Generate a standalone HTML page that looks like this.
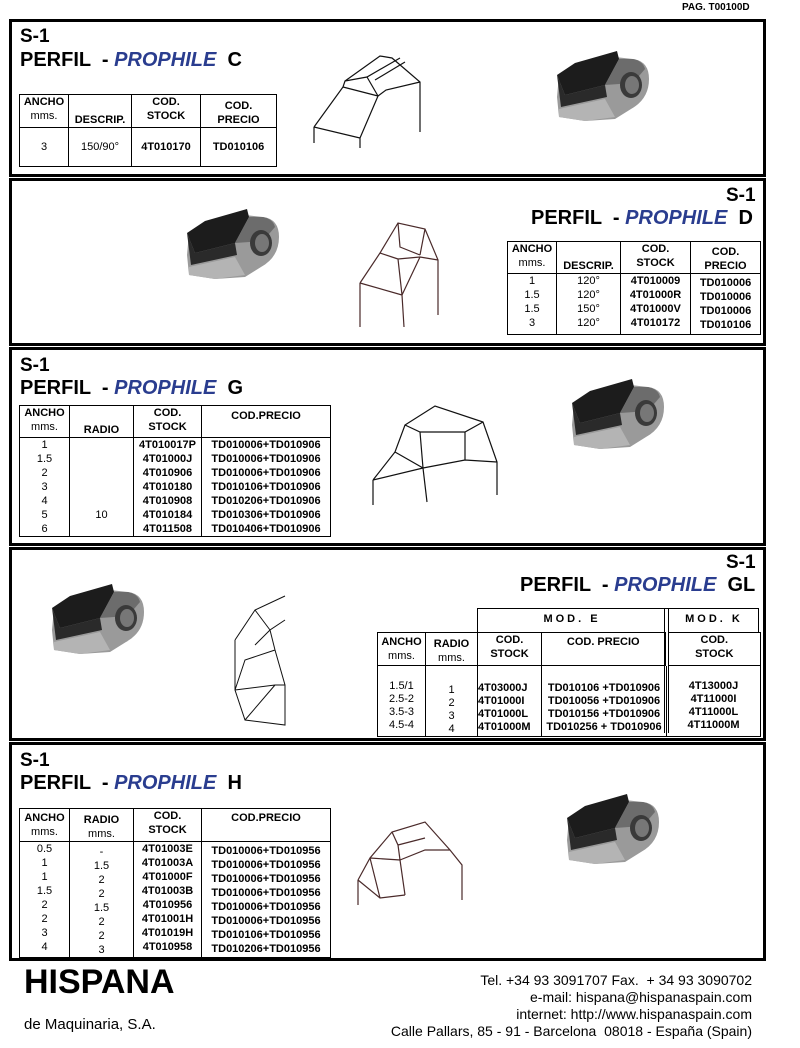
<!DOCTYPE html>
<html><head><meta charset="utf-8">
<style>
body{margin:0;width:800px;height:1048px;background:#fff;position:relative;font-family:"Liberation Sans",Arial,sans-serif;overflow:hidden}
.a{position:absolute}
.box{position:absolute;left:9px;width:757px;border:3px solid #000;box-sizing:border-box}
.s1{position:absolute;font-weight:bold;font-size:19px;color:#000}
.t{position:absolute;font-weight:bold;font-size:20px;white-space:nowrap}
.t i{color:#2a3d8f}
table{position:absolute;border-collapse:collapse;table-layout:fixed;font-size:11px;text-align:center}
td{border:1.5px solid #000;padding:0;vertical-align:top;line-height:14px}
.h{font-weight:bold;font-size:11px;line-height:13px}
.b{font-weight:bold}
</style></head><body>
<svg width="0" height="0" style="position:absolute"><defs>
<g id="tool">
<path d="M12,60 L14,38 L30,28 L70,20 L88,22 Q104,24 104,42 Q104,62 86,72 L70,82 L40,84 L14,80 Z" fill="#9a9a9a"/>
<path d="M12,38 L30,26 L72,14 L74,22 L60,48 L20,58 Z" fill="#1c1c1c"/>
<path d="M60,48 L74,22 L88,22 Q98,24 100,32 L88,46 Z" fill="#6c6c6c"/>
<path d="M12,38 L20,58 L60,48 L62,60 L16,70 Z" fill="#2a2a2a"/>
<ellipse cx="86" cy="48" rx="11" ry="13" fill="#3a3a3a"/>
<ellipse cx="87" cy="48" rx="7" ry="9" fill="#777"/>
<path d="M14,72 L60,62 L70,80 L40,84 L14,80Z" fill="#b4b4b4"/>
</g>
</defs></svg>

<div class="a b" style="left:682px;top:2px;font-size:10px">PAG. T00100D</div>

<div class="box" style="top:19px;height:158px"></div>
<div class="box" style="top:178px;height:168px"></div>
<div class="box" style="top:347px;height:199px"></div>
<div class="box" style="top:547px;height:194px"></div>
<div class="box" style="top:742px;height:219px"></div>

<!-- C -->
<div class="s1" style="left:20px;top:26px">S-1</div>
<div class="t" style="left:20px;top:49px">PERFIL &nbsp;- <i>PROPHILE</i>&nbsp; C</div>
<table style="left:19px;top:94px;width:257px"><colgroup><col width="49"><col width="63"><col width="69"><col width="76"></colgroup>
<tr style="height:30px" class="h"><td>ANCHO<br><span style="font-weight:normal">mms.</span></td><td style="vertical-align:bottom">DESCRIP.</td><td>COD.<br>STOCK</td><td style="padding-top:4px">COD.<br>PRECIO</td></tr>
<tr style="height:39px"><td style="vertical-align:middle">3</td><td style="vertical-align:middle">150/90°</td><td class="b" style="vertical-align:middle">4T010170</td><td class="b" style="vertical-align:middle">TD010106</td></tr></table>
<svg class="a" style="left:300px;top:40px" width="170" height="110" fill="none" stroke="#111" stroke-width="1.2"><path d="M14,87 L14,103 M14,87 L60,98 L60,108 M14,87 L43,47 L45,41 L80,16 L92,18 L120,42 L120,92 M120,42 L86,50 L78,56 L60,98 M43,47 L78,56 M45,41 L67,37 L100,18 M67,37 L78,56 M75,40 L105,22"/></svg>
<svg class="a" style="left:545px;top:37px" width="115" height="95"><use href="#tool"/></svg>

<!-- D -->
<div class="s1" style="left:726px;top:185px">S-1</div>
<div class="t" style="left:531px;top:207px">PERFIL &nbsp;- <i>PROPHILE</i>&nbsp; D</div>
<table style="left:507px;top:241px;width:253px"><colgroup><col width="49"><col width="64"><col width="70"><col width="70"></colgroup>
<tr style="height:31px" class="h"><td>ANCHO<br><span style="font-weight:normal">mms.</span></td><td style="vertical-align:bottom">DESCRIP.</td><td>COD.<br>STOCK</td><td style="padding-top:3px">COD.<br>PRECIO</td></tr>
<tr style="height:61px"><td style="line-height:14px">1<br>1.5<br>1.5<br>3</td><td>120°<br>120°<br>150°<br>120°</td><td class="b">4T010009<br>4T01000R<br>4T01000V<br>4T010172</td><td class="b" style="padding-top:2px">TD010006<br>TD010006<br>TD010006<br>TD010106</td></tr></table>
<svg class="a" style="left:350px;top:215px" width="120" height="115" fill="none" stroke="#4a2a2a" stroke-width="1.2"><path d="M10,68 L10,112 M10,68 L52,80 L54,112 M10,68 L30,38 L48,8 L75,14 L88,45 L88,100 M30,38 L48,44 L52,80 M48,44 L70,42 L88,45 M48,8 L50,32 L70,40 M75,14 L70,40 M52,80 L70,42"/></svg>
<svg class="a" style="left:175px;top:195px" width="115" height="95"><use href="#tool"/></svg>

<!-- G -->
<div class="s1" style="left:20px;top:355px">S-1</div>
<div class="t" style="left:20px;top:377px">PERFIL &nbsp;- <i>PROPHILE</i>&nbsp; G</div>
<table style="left:19px;top:405px;width:311px"><colgroup><col width="50"><col width="64"><col width="68"><col width="129"></colgroup>
<tr style="height:32px" class="h"><td>ANCHO<br><span style="font-weight:normal">mms.</span></td><td style="vertical-align:bottom">RADIO</td><td>COD.<br>STOCK</td><td style="padding-top:3px">COD.PRECIO</td></tr>
<tr style="height:97px"><td>1<br>1.5<br>2<br>3<br>4<br>5<br>6</td><td><br><br><br><br><br>10</td><td class="b">4T010017P<br>4T01000J<br>4T010906<br>4T010180<br>4T010908<br>4T010184<br>4T011508</td><td class="b">TD010006+TD010906<br>TD010006+TD010906<br>TD010006+TD010906<br>TD010106+TD010906<br>TD010206+TD010906<br>TD010306+TD010906<br>TD010406+TD010906</td></tr></table>
<svg class="a" style="left:365px;top:400px" width="140" height="110" fill="none" stroke="#111" stroke-width="1.2"><path d="M8,80 L8,105 M8,80 L30,52 L40,25 L70,6 L118,22 L132,62 L132,95 M30,52 L58,68 L62,102 M58,68 L100,60 L132,62 M40,25 L55,32 L100,32 L118,22 M55,32 L58,68 M100,32 L100,60 M8,80 L58,68"/></svg>
<svg class="a" style="left:560px;top:365px" width="115" height="95"><use href="#tool"/></svg>

<!-- GL -->
<div class="s1" style="left:726px;top:552px">S-1</div>
<div class="t" style="left:520px;top:574px">PERFIL &nbsp;- <i>PROPHILE</i>&nbsp; GL</div>
<div class="a" style="left:477px;top:608px;width:282px;height:24px;border:1.5px solid #000;border-bottom:none;box-sizing:border-box"></div>
<div class="a b" style="left:477px;top:613px;width:190px;text-align:center;font-size:11px;letter-spacing:3px">MOD. E</div>
<div class="a b" style="left:669px;top:613px;width:90px;text-align:center;font-size:11px;letter-spacing:3px">MOD. K</div>
<div class="a" style="left:664px;top:608px;width:3px;height:125px;border-left:1.5px solid #000;border-right:1.5px solid #000"></div>
<table style="left:377px;top:632px;width:383px"><colgroup><col width="48"><col width="52"><col width="64"><col width="125"><col width="94"></colgroup>
<tr style="height:30px" class="h"><td style="padding-top:2px">ANCHO<br><span style="font-weight:normal">mms.</span></td><td style="padding-top:4px">RADIO<br><span style="font-weight:normal">mms.</span></td><td>COD.<br>STOCK</td><td style="padding-top:2px">COD. PRECIO</td><td style="border-left:4px double #000">COD.<br>STOCK</td></tr>
<tr style="height:71px"><td style="padding-top:14px;line-height:13px">1.5/1<br>2.5-2<br>3.5-3<br>4.5-4</td><td style="padding-top:18px;line-height:13px">1<br>2<br>3<br>4</td><td class="b" style="padding-top:16px;line-height:13px;text-align:left">4T03000J<br>4T01000I<br>4T01000L<br>4T01000M</td><td class="b" style="padding-top:16px;line-height:13px">TD010106 +TD010906<br>TD010056 +TD010906<br>TD010156 +TD010906<br>TD010256 + TD010906</td><td class="b" style="padding-top:14px;line-height:13px">4T13000J<br>4T11000I<br>4T11000L<br>4T11000M</td></tr></table>
<svg class="a" style="left:225px;top:590px" width="95" height="140" fill="none" stroke="#111" stroke-width="1"><path d="M10,50 L10,100 L20,130 L60,135 L60,95 L50,60 L45,40 L60,30 M10,50 L30,20 L60,6 M30,20 L45,40 M10,100 L50,95 L60,95 M20,130 L50,95 M50,60 L20,70 L10,100 M45,40 L30,55"/></svg>
<svg class="a" style="left:40px;top:570px" width="115" height="95"><use href="#tool"/></svg>

<!-- H -->
<div class="s1" style="left:20px;top:750px">S-1</div>
<div class="t" style="left:20px;top:772px">PERFIL &nbsp;- <i>PROPHILE</i>&nbsp; H</div>
<table style="left:19px;top:808px;width:311px"><colgroup><col width="50"><col width="64"><col width="68"><col width="129"></colgroup>
<tr style="height:30px" class="h"><td style="padding-top:2px">ANCHO<br><span style="font-weight:normal">mms.</span></td><td style="padding-top:4px">RADIO<br><span style="font-weight:normal">mms.</span></td><td>COD.<br>STOCK</td><td style="padding-top:2px">COD.PRECIO</td></tr>
<tr style="height:112px"><td>0.5<br>1<br>1<br>1.5<br>2<br>2<br>3<br>4</td><td style="padding-top:3px">-<br>1.5<br>2<br>2<br>1.5<br>2<br>2<br>3</td><td class="b">4T01003E<br>4T01003A<br>4T01000F<br>4T01003B<br>4T010956<br>4T01001H<br>4T01019H<br>4T010958</td><td class="b" style="padding-top:2px">TD010006+TD010956<br>TD010006+TD010956<br>TD010006+TD010956<br>TD010006+TD010956<br>TD010006+TD010956<br>TD010006+TD010956<br>TD010106+TD010956<br>TD010206+TD010956</td></tr></table>
<svg class="a" style="left:350px;top:810px" width="120" height="105" fill="none" stroke="#4a2a2a" stroke-width="1.2"><path d="M8,70 L8,95 M8,70 L20,48 L42,22 L75,12 L100,40 L112,55 L112,90 M20,48 L50,50 L55,85 M50,50 L75,40 L100,40 M42,22 L48,35 L75,28 M48,35 L50,50 M8,70 L30,88 L55,85 M20,48 L30,88"/></svg>
<svg class="a" style="left:555px;top:780px" width="115" height="95"><use href="#tool"/></svg>

<!-- footer -->
<div class="a b" style="left:24px;top:963px;font-size:34px">HISPANA</div>
<div class="a" style="left:24px;top:1016px;font-size:15px">de Maquinaria, S.A.</div>
<div class="a" style="right:48px;top:972px;font-size:14px;text-align:right;line-height:17px;white-space:nowrap">Tel. +34 93 3091707 Fax. &nbsp;+ 34 93 3090702<br>e-mail: hispana@hispanaspain.com<br>internet: http://www.hispanaspain.com<br>Calle Pallars, 85 - 91 - Barcelona &nbsp;08018 - España (Spain)</div>
</body></html>
